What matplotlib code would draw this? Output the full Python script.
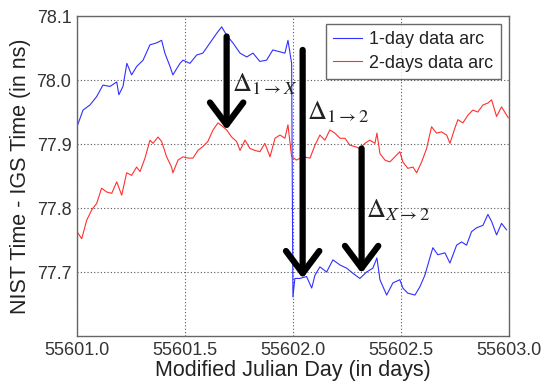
import matplotlib
matplotlib.use("Agg")
import matplotlib.pyplot as plt
import numpy as np

plt.rcParams["font.family"] = ["Liberation Sans", "DejaVu Sans"]
plt.rcParams["mathtext.fontset"] = "stix"

mjd0 = 55601.0

# 1-day data arc (offsets in days from MJD 55601.0, values in ns)
blue_t = [0.000, 0.028, 0.060, 0.091, 0.120, 0.153, 0.184, 0.194, 0.213, 0.231,
          0.253, 0.276, 0.306, 0.338, 0.369, 0.392, 0.407, 0.431, 0.444, 0.477,
          0.491, 0.523, 0.554, 0.583, 0.616, 0.647, 0.670, 0.693, 0.722, 0.755,
          0.786, 0.815, 0.847, 0.878, 0.907, 0.940, 0.963, 0.977, 0.994, 1.000,
          1.009, 1.032, 1.063, 1.087, 1.102, 1.125, 1.156, 1.185, 1.218, 1.249,
          1.278, 1.310, 1.341, 1.370, 1.389, 1.403, 1.434, 1.463, 1.495, 1.509,
          1.532, 1.565, 1.588, 1.611, 1.634, 1.648, 1.671, 1.704, 1.727, 1.758,
          1.781, 1.804, 1.827, 1.850, 1.880, 1.903, 1.920, 1.943, 1.966, 1.989]
blue_v = [77.927, 77.953, 77.961, 77.974, 77.992, 77.990, 77.997, 77.977, 77.990, 78.026,
          78.008, 78.021, 78.031, 78.055, 78.058, 78.062, 78.042, 78.021, 78.008, 78.026,
          78.031, 78.026, 78.039, 78.042, 78.058, 78.073, 78.083, 78.070, 78.058, 78.042,
          78.036, 78.042, 78.029, 78.031, 78.047, 78.044, 78.042, 78.062, 78.026, 77.661,
          77.690, 77.690, 77.693, 77.675, 77.695, 77.708, 77.700, 77.719, 77.711, 77.706,
          77.698, 77.690, 77.700, 77.706, 77.722, 77.688, 77.664, 77.683, 77.688, 77.675,
          77.667, 77.664, 77.677, 77.695, 77.722, 77.738, 77.727, 77.730, 77.714, 77.742,
          77.747, 77.742, 77.763, 77.769, 77.773, 77.790, 77.779, 77.758, 77.776, 77.766]

# 2-days data arc
red_t = [0.000, 0.022, 0.045, 0.068, 0.091, 0.114, 0.138, 0.161, 0.184, 0.207,
         0.230, 0.253, 0.276, 0.292, 0.315, 0.338, 0.352, 0.375, 0.392, 0.415,
         0.438, 0.444, 0.468, 0.491, 0.514, 0.537, 0.560, 0.583, 0.606, 0.630,
         0.653, 0.676, 0.693, 0.716, 0.739, 0.755, 0.778, 0.801, 0.824, 0.847,
         0.870, 0.894, 0.917, 0.940, 0.963, 0.977, 0.994,
         1.017, 1.046, 1.079, 1.102, 1.125, 1.148, 1.171, 1.194, 1.218, 1.241,
         1.264, 1.287, 1.310, 1.333, 1.356, 1.380, 1.389, 1.403, 1.426, 1.449,
         1.472, 1.495, 1.509, 1.532, 1.556, 1.573, 1.596, 1.619, 1.642, 1.665,
         1.688, 1.712, 1.727, 1.750, 1.764, 1.787, 1.810, 1.833, 1.856, 1.880,
         1.903, 1.920, 1.943, 1.966, 1.997]
red_v = [77.763, 77.752, 77.781, 77.797, 77.807, 77.831, 77.825, 77.823, 77.841, 77.820,
         77.855, 77.851, 77.864, 77.857, 77.878, 77.906, 77.901, 77.911, 77.904, 77.880,
         77.864, 77.855, 77.875, 77.880, 77.878, 77.878, 77.890, 77.896, 77.904, 77.922,
         77.933, 77.927, 77.922, 77.911, 77.904, 77.890, 77.906, 77.893, 77.890, 77.888,
         77.901, 77.880, 77.909, 77.914, 77.909, 77.930, 77.880,
         77.875, 77.880, 77.878, 77.898, 77.914, 77.906, 77.922, 77.917, 77.909, 77.909,
         77.898, 77.896, 77.893, 77.901, 77.906, 77.901, 77.917, 77.885, 77.875, 77.872,
         77.880, 77.888, 77.872, 77.862, 77.864, 77.855, 77.872, 77.893, 77.927, 77.917,
         77.919, 77.914, 77.901, 77.925, 77.938, 77.933, 77.945, 77.953, 77.950, 77.961,
         77.964, 77.969, 77.943, 77.958, 77.941]

# offset arrows: (day offset, start, end) and their labels
arrow_t = [0.693, 1.045, 1.318]
arrow_top = [78.068, 78.047, 77.893]
arrow_tip = [77.922, 77.690, 77.698]
label_t = [0.718, 1.063, 1.338]
label_v = [77.982, 77.938, 77.786]
label_txt = [r"$\Delta_{1\rightarrow X}$", r"$\Delta_{1\rightarrow 2}$", r"$\Delta_{X\rightarrow 2}$"]

xticks = [55601.0, 55601.5, 55602.0, 55602.5, 55603.0]
yticks = [77.7, 77.8, 77.9, 78.0, 78.1]

fig = plt.figure(figsize=(5.46, 3.81), dpi=100)
ax = fig.add_axes([0.141, 0.118, 0.791, 0.840])

ax.plot(mjd0 + np.array(blue_t), blue_v, color="#3030ff", lw=0.8, label="1-day data arc")
ax.plot(mjd0 + np.array(red_t), red_v, color="#ff3030", lw=0.8, label="2-days data arc")

for t, y0, y1 in zip(arrow_t, arrow_top, arrow_tip):
    ax.annotate("", xy=(mjd0 + t, y1), xytext=(mjd0 + t, y0),
                arrowprops=dict(arrowstyle="->,head_length=0.8,head_width=0.6",
                                lw=4.5, color="black", mutation_scale=20,
                                shrinkA=0, shrinkB=0))

for t, v, s in zip(label_t, label_v, label_txt):
    ax.text(mjd0 + t, v, s, fontsize=19, color="#222222", ha="left", va="baseline")

ax.set_xlim(55601.0, 55603.0)
ax.set_ylim(77.6, 78.1)
ax.set_xticks(xticks)
ax.set_xticklabels(["%.1f" % x for x in xticks])
ax.set_yticks(yticks)
ax.set_yticklabels(["%.1f" % y for y in yticks])
ax.tick_params(labelsize=13, colors="#333333", length=0, pad=4)
ax.grid(True, color="#555555", ls=(0, (1, 2)), lw=0.8)
for sp in ax.spines.values():
    sp.set_color("#666666")
    sp.set_linewidth(1.0)

ax.set_xlabel("Modified Julian Day (in days)", fontsize=15.5, color="#222222", labelpad=1)
ax.set_ylabel("NIST Time - IGS Time (in ns)", fontsize=15.5, color="#222222", labelpad=4)

leg = ax.legend(loc="upper right", fontsize=13, handlelength=1.6, fancybox=False,
                borderaxespad=0.45, labelspacing=0.35, handletextpad=0.4, borderpad=0.4)
leg.get_frame().set_edgecolor("#444444")
leg.get_frame().set_linewidth(1.0)
for t in leg.get_texts():
    t.set_color("#222222")

fig.savefig("out.png", dpi=100)
